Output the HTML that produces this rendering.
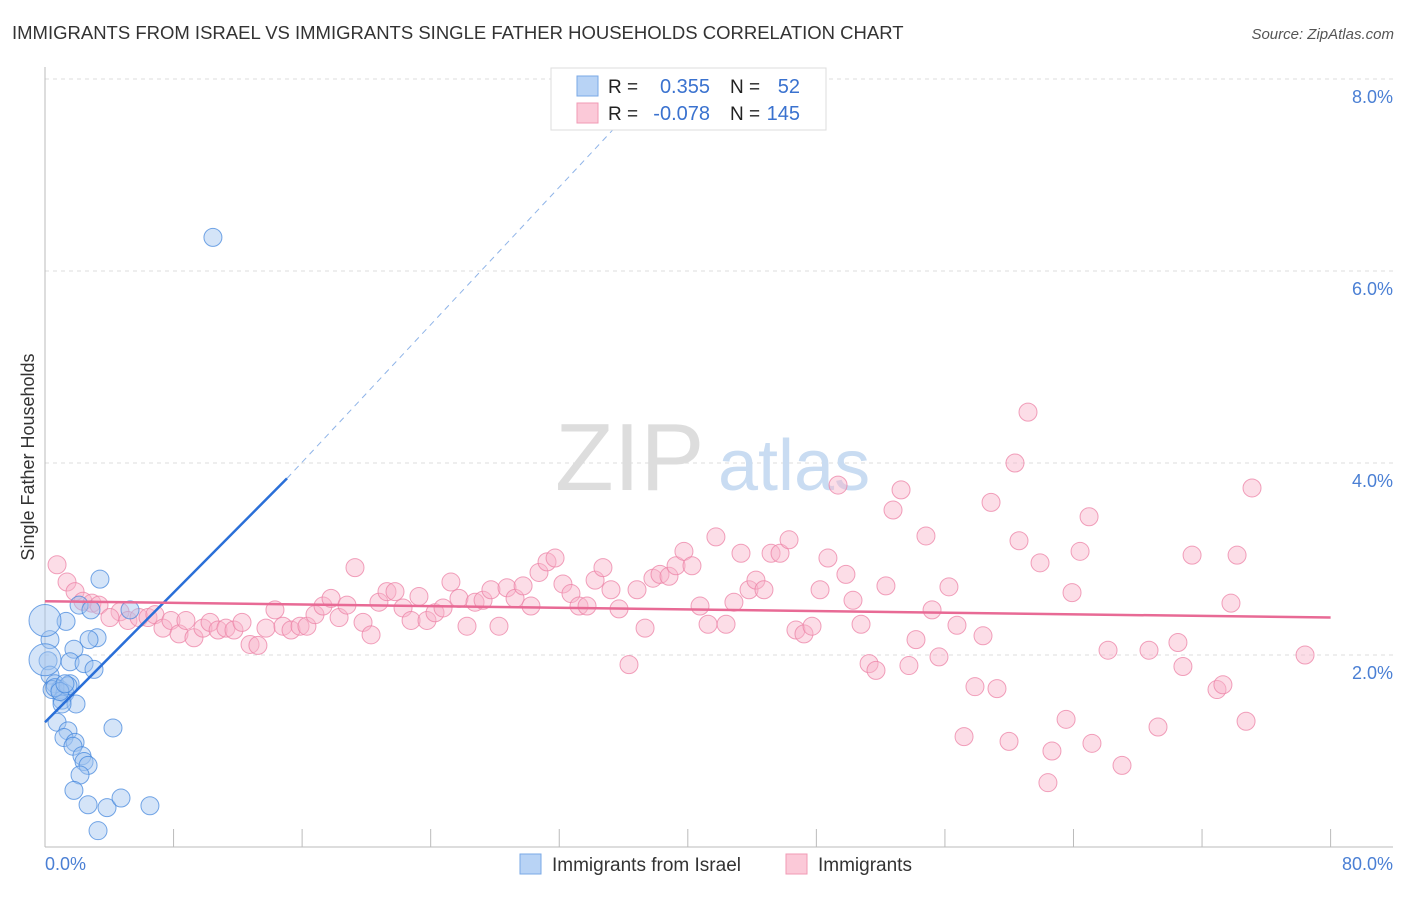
<!DOCTYPE html>
<html><head><meta charset="utf-8"><style>
body{margin:0;background:#fff;font-family:"Liberation Sans",sans-serif;}
svg text{font-family:"Liberation Sans",sans-serif;}
</style></head><body>
<svg id="chart" width="1406" height="892" xmlns="http://www.w3.org/2000/svg">
<text x="12" y="39" font-size="18.5" fill="#333">IMMIGRANTS FROM ISRAEL VS IMMIGRANTS SINGLE FATHER HOUSEHOLDS CORRELATION CHART</text>
<text x="1394" y="39" font-size="15" fill="#555" font-style="italic" text-anchor="end">Source: ZipAtlas.com</text>
<g id="grid"></g>
<g><text x="555" y="490" font-size="96" fill="#ddd" font-family="Liberation Serif">ZIP</text><text x="718" y="490" font-size="72" fill="#c9dcf2">atlas</text></g>
<g id="pink"></g>
<g id="blue"></g>
<g id="lines"></g>
<text transform="translate(34,457) rotate(-90)" font-size="18" fill="#333" text-anchor="middle">Single Father Households</text>
<text x="45" y="870" font-size="18" fill="#4a7fd4">0.0%</text>
<text x="1393" y="870" font-size="18" fill="#4a7fd4" text-anchor="end">80.0%</text>
<g>
<rect x="551" y="68" width="275" height="62" fill="#fff" stroke="#ddd"/>
<rect x="577" y="76" width="21" height="20" fill="#b8d3f5" stroke="#7aa8e6"/>
<rect x="577" y="103" width="21" height="20" fill="#fbc9d8" stroke="#f09ab5"/>
<text x="608" y="93" font-size="19" fill="#222">R =</text><text x="710" y="93" font-size="20" fill="#3a72cf" text-anchor="end">0.355</text>
<text x="730" y="93" font-size="19" fill="#222">N =</text><text x="800" y="93" font-size="20" fill="#3a72cf" text-anchor="end">52</text>
<text x="608" y="120" font-size="19" fill="#222">R =</text><text x="710" y="120" font-size="20" fill="#3a72cf" text-anchor="end">-0.078</text>
<text x="730" y="120" font-size="19" fill="#222">N =</text><text x="800" y="120" font-size="20" fill="#3a72cf" text-anchor="end">145</text>
</g>
<g>
<rect x="520" y="854" width="21" height="20" fill="#b8d3f5" stroke="#7aa8e6"/>
<text x="552" y="871" font-size="19" fill="#333">Immigrants from Israel</text>
<rect x="786" y="854" width="21" height="20" fill="#fbc9d8" stroke="#f09ab5"/>
<text x="818" y="871" font-size="19" fill="#333">Immigrants</text>
</g>
</svg>
<script>
const yTicks=[2,4,6,8];
const xTicks=[0,8,16,24,32,40,48,56,64,72,80];
const blueX=[10.45,3.42,2.12,2.86,5.29,1.31,3.24,2.74,1.80,0.31,1.56,2.43,3.05,0.19,0.31,0.62,0.93,1.56,0.44,1.24,1.06,1.93,1.06,4.23,0.75,1.43,1.18,1.87,1.74,2.30,2.43,2.68,2.18,1.80,2.68,3.86,4.73,6.53,3.30,0,0,0.62,1.43,0.93,1.24];
const blueY=[6.35,2.79,2.52,2.47,2.47,2.35,2.18,2.16,2.06,2.16,1.93,1.91,1.85,1.94,1.79,1.70,1.64,1.70,1.64,1.60,1.53,1.49,1.49,1.24,1.30,1.21,1.14,1.09,1.05,0.95,0.89,0.85,0.75,0.59,0.44,0.41,0.51,0.43,0.17,2.36,1.95,1.66,1.68,1.62,1.70];
const pinkX=[0.75,1.37,1.87,2.36,2.92,3.36,4.67,4.04,5.16,5.85,6.41,6.84,7.34,7.84,8.34,8.77,9.27,9.83,10.27,10.77,11.26,11.76,12.26,12.76,13.25,13.75,14.31,14.81,15.31,15.87,16.30,16.80,17.30,17.80,18.30,18.79,19.29,19.79,20.29,20.78,21.28,21.78,22.28,22.78,23.27,23.77,24.27,24.77,25.26,25.76,26.26,26.76,27.26,27.75,28.25,28.75,29.25,29.75,30.24,30.74,31.24,31.74,32.23,32.73,33.23,33.73,34.23,34.72,35.22,35.72,36.34,36.84,37.34,37.83,38.27,38.83,39.27,39.76,40.26,40.76,41.26,41.75,42.38,42.87,43.31,43.81,44.24,44.74,45.18,45.74,46.30,46.73,47.23,47.73,48.23,48.72,49.35,49.84,50.28,50.78,51.28,51.71,52.33,52.77,53.27,53.76,54.20,54.82,55.20,55.63,56.25,56.75,57.19,57.87,58.37,58.87,59.24,59.99,60.36,60.61,61.17,61.92,62.41,62.66,63.54,63.91,64.41,64.97,65.15,66.15,67.02,68.70,69.26,70.50,70.81,71.38,72.93,73.30,73.80,74.18,74.74,75.11,78.41];
const pinkY=[2.94,2.76,2.66,2.56,2.54,2.52,2.45,2.39,2.36,2.39,2.39,2.42,2.28,2.36,2.22,2.36,2.18,2.28,2.34,2.26,2.28,2.26,2.34,2.11,2.10,2.28,2.47,2.30,2.26,2.30,2.30,2.42,2.51,2.59,2.39,2.52,2.91,2.34,2.21,2.55,2.66,2.66,2.49,2.36,2.61,2.36,2.44,2.49,2.76,2.59,2.30,2.55,2.57,2.68,2.30,2.70,2.59,2.72,2.51,2.86,2.97,3.01,2.74,2.64,2.51,2.51,2.78,2.91,2.68,2.48,1.90,2.68,2.28,2.80,2.84,2.82,2.93,3.08,2.93,2.51,2.32,3.23,2.32,2.55,3.06,2.68,2.78,2.68,3.06,3.06,3.20,2.26,2.22,2.30,2.68,3.01,3.77,2.84,2.57,2.32,1.91,1.84,2.72,3.51,3.72,1.89,2.16,3.24,2.47,1.98,2.71,2.31,1.15,1.67,2.20,3.59,1.65,1.10,4.00,3.19,4.53,2.96,0.67,1.00,1.33,2.65,3.08,3.44,1.08,2.05,0.85,2.05,1.25,2.13,1.88,3.04,1.64,1.69,2.54,3.04,1.31,3.74,2.00];
const blueTrend=[0,1.30,15.06,3.84,35.5,7.5];
const pinkTrend=[0,2.56,80,2.39];
const NS='http://www.w3.org/2000/svg';
const sx=v=>45+v*16.07, sy=v=>847-v*96;
function mk(tag,attrs,parent){const e=document.createElementNS(NS,tag);for(const k in attrs)e.setAttribute(k,attrs[k]);parent.appendChild(e);return e;}
const grid=document.getElementById('grid');
yTicks.forEach(t=>{
 const l=mk('line',{x1:45,x2:1393,y1:sy(t),y2:sy(t),stroke:'#ddd','stroke-dasharray':'4,4'},grid);
 
 
 const tx=mk('text',{x:1393,y:sy(t)+24,'font-size':18,fill:'#4a7fd4','text-anchor':'end'},grid);
 tx.textContent=t.toFixed(1)+'%';
 
 
});
mk('line',{x1:45,x2:45,y1:67,y2:847,stroke:'#bbb'},grid);
mk('line',{x1:45,x2:1393,y1:847,y2:847,stroke:'#bbb'},grid);
xTicks.forEach(t=>{
 const l=mk('line',{x1:sx(t),x2:sx(t),y1:829,y2:847,stroke:'#bbb'},grid);
 
 
});
const pg=document.getElementById('pink');
pinkX.forEach((x,i)=>{
 const c=mk('circle',{cx:sx(x),cy:sy(pinkY[i]),r:9,fill:'rgba(248,180,202,0.45)',stroke:'rgba(236,130,165,0.75)','stroke-width':1},pg);
 
 
});
const bg=document.getElementById('blue');
blueX.forEach((x,i)=>{
 const big=(x===0);
 const c=mk('circle',{cx:sx(x),cy:sy(blueY[i]),r:big?16:9,fill:'rgba(160,196,240,0.45)',stroke:'rgba(60,130,220,0.7)','stroke-width':1},bg);
 
 
});
const lg=document.getElementById('lines');
const b=blueTrend;
let l1=mk('line',{x1:sx(b[0]),y1:sy(b[1]),x2:sx(b[2]),y2:sy(b[3]),stroke:'#2a6fd8','stroke-width':2.5},lg);


let l2=mk('line',{x1:sx(b[2]),y1:sy(b[3]),x2:sx(b[4]),y2:sy(b[5]),stroke:'#8fb4e8','stroke-width':1,'stroke-dasharray':'6,5'},lg);


const p=pinkTrend;
let l3=mk('line',{x1:sx(p[0]),y1:sy(p[1]),x2:sx(p[2]),y2:sy(p[3]),stroke:'#e86a95','stroke-width':2.5},lg);


</script>
</body></html>
